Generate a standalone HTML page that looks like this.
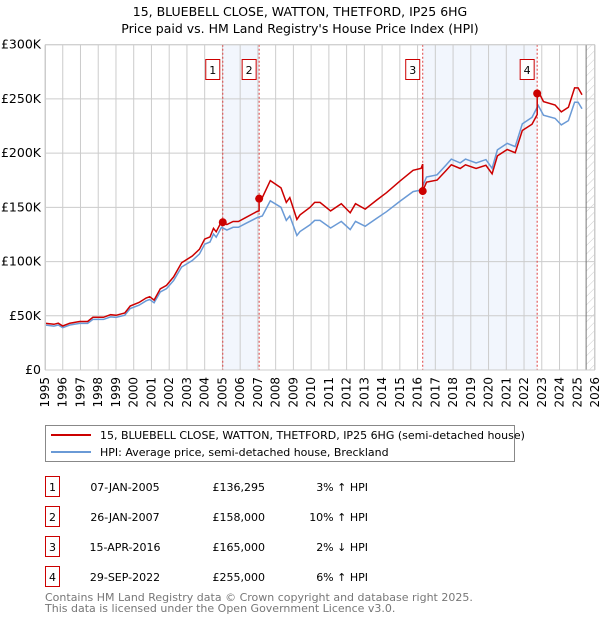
<!DOCTYPE html>
<html><head><meta charset="utf-8">
<style>
body{margin:0;background:#fff;font-family:"DejaVu Sans","Liberation Sans",sans-serif;}
svg text{font-family:"DejaVu Sans","Liberation Sans",sans-serif;}
</style></head>
<body>
<svg id="chart" width="600" height="620" viewBox="0 0 600 620" xmlns="http://www.w3.org/2000/svg">
<text x="300" y="16" text-anchor="middle" font-size="12.5">15, BLUEBELL CLOSE, WATTON, THETFORD, IP25 6HG</text>
<text x="300" y="33" text-anchor="middle" font-size="12.5">Price paid vs. HM Land Registry's House Price Index (HPI)</text>
<g id="plot"></g>
<g id="legend">
<rect x="45.5" y="425.5" width="469" height="36" fill="#fff" stroke="#888"/>
<line x1="51" y1="435" x2="91" y2="435" stroke="#cc0000" stroke-width="2"/>
<text x="100" y="439" font-size="11">15, BLUEBELL CLOSE, WATTON, THETFORD, IP25 6HG (semi-detached house)</text>
<line x1="51" y1="452" x2="91" y2="452" stroke="#6a9ad6" stroke-width="2"/>
<text x="100" y="456" font-size="11">HPI: Average price, semi-detached house, Breckland</text>
</g>
<g id="table"></g>
<text x="45" y="601" font-size="11" fill="#777">Contains HM Land Registry data © Crown copyright and database right 2025.</text>
<text x="45" y="612" font-size="11" fill="#777">This data is licensed under the Open Government Licence v3.0.</text>
</svg>
<script>
const hpiYears=[1995.0,1995.5,1995.75,1996.0,1996.4,1996.95,1997.4,1997.7,1998.3,1998.7,1999.0,1999.5,1999.8,2000.3,2000.7,2000.9,2001.15,2001.5,2001.85,2002.25,2002.7,2003.3,2003.7,2004.0,2004.3,2004.5,2004.65,2004.95,2005.25,2005.6,2005.9,2006.3,2006.95,2007.25,2007.7,2008.3,2008.6,2008.8,2009.2,2009.37,2009.93,2010.2,2010.5,2011.1,2011.7,2012.2,2012.5,2013.05,2013.7,2014.25,2015.0,2015.75,2016.2,2016.5,2017.1,2017.6,2017.9,2018.4,2018.7,2019.3,2019.85,2020.2,2020.5,2021.05,2021.5,2021.9,2022.45,2022.8,2023.1,2023.75,2024.1,2024.5,2024.85,2025.05,2025.27];
const hpiValues=[41.5,40.5,41.5,39,41.5,43,43,46.7,46.7,49,48.5,50.5,56.7,59.8,63.8,65,62,72,75,82.5,95,101,107,116,118,125.5,122.5,131.6,129,131.6,131.6,135,140.5,142,156,150,138,142,124,127.7,133.8,138,138,131,137,129.5,137,132.5,140,146,155.5,164.5,166,178,180,189,194.5,191,194.5,191,194,186,203,209,206,227,233,244,235,232,226,230,247,247,241];
const saleLabels=["1","2","3","4"];
const saleYears=[2005.02,2007.07,2016.29,2022.74];
const salePrices=[136.295,158,165,255];
const saleDates=["07-JAN-2005","26-JAN-2007","15-APR-2016","29-SEP-2022"];
const salePriceText=["£136,295","£158,000","£165,000","£255,000"];
const saleHpiText=["3% ↑ HPI","10% ↑ HPI","2% ↓ HPI","6% ↑ HPI"];
const yTicks=[0,50,100,150,200,250,300];
const yTickLabels=["£0","£50K","£100K","£150K","£200K","£250K","£300K"];
const xTicks=[1995,1996,1997,1998,1999,2000,2001,2002,2003,2004,2005,2006,2007,2008,2009,2010,2011,2012,2013,2014,2015,2016,2017,2018,2019,2020,2021,2022,2023,2024,2025,2026];

const NS="http://www.w3.org/2000/svg";
const L=45,R=595,T=44.7,B=370;
const X=y=>L+(y-1995)*(R-L)/31;
const Y=v=>B-v*(B-T)/300;
function mk(tag,attrs,parent){const e=document.createElementNS(NS,tag);for(const k in attrs)e.setAttribute(k,attrs[k]);parent.appendChild(e);return e;}
function hpiAt(t){for(let i=0;i<hpiYears.length-1;i++){if(t<=hpiYears[i+1]){const f=(t-hpiYears[i])/(hpiYears[i+1]-hpiYears[i]);return hpiValues[i]+f*(hpiValues[i+1]-hpiValues[i]);}}return hpiValues[hpiValues.length-1];}
const plot=document.getElementById('plot');
[[0,1],[2,3]].forEach(p=>{const r=mk('rect',{x:X(saleYears[p[0]]),y:T,width:X(saleYears[p[1]])-X(saleYears[p[0]]),height:B-T,fill:'#f2f6fd'},plot);

});
const defs=mk('defs',{},plot);
const pat=mk('pattern',{id:'hatch',width:6,height:6,patternUnits:'userSpaceOnUse',patternTransform:'rotate(45)'},defs);
mk('line',{x1:0,y1:0,x2:0,y2:6,stroke:'#ccc','stroke-width':1},pat);
const hx=X(2025.5);
const hr=mk('rect',{x:hx,y:T,width:R-hx,height:B-T,fill:'url(#hatch)'},plot);


xTicks.forEach((t,i)=>{const g=mk('line',{x1:X(t),y1:T,x2:X(t),y2:B,stroke:'#ccc','stroke-width':1},plot);


const tx=mk('text',{x:X(t)+4,y:377,'font-size':12,'text-anchor':'end',transform:`rotate(-90 ${X(t)+4} 377)`},plot);


tx.textContent=t;});
yTicks.forEach((v,i)=>{const g=mk('line',{x1:L,y1:Y(v),x2:R,y2:Y(v),stroke:'#ccc','stroke-width':1},plot);


const tx=mk('text',{x:41,y:Y(v)+4,'font-size':12.5,'text-anchor':'end'},plot);


tx.textContent=yTickLabels[i];});
const vl=mk('line',{x1:hx,y1:T,x2:hx,y2:B,stroke:'#777','stroke-width':1},plot);


saleYears.forEach((s,i)=>{const l=mk('line',{x1:X(s),y1:T,x2:X(s),y2:B,stroke:'#e04040','stroke-width':1,'stroke-dasharray':'2,2'},plot);


const bx=mk('rect',{x:X(s)-17,y:59.5,width:14,height:20,fill:'#fff',stroke:'#cc0000'},plot);


const t=mk('text',{x:X(s)-10,y:74,'font-size':11,'text-anchor':'middle'},plot);


t.textContent=saleLabels[i];});
let d='';hpiYears.forEach((t,i)=>{d+=(i?'L':'M')+X(t).toFixed(1)+','+Y(hpiValues[i]).toFixed(1);});
const hp=mk('path',{d:d,fill:'none',stroke:'#6a9ad6','stroke-width':1.5},plot);


function segIdx(t){let k=0;for(let i=0;i<saleYears.length;i++)if(t>=saleYears[i])k=i;return k;}
let pts=[];
hpiYears.forEach((t,i)=>{
  saleYears.forEach((s,j)=>{const prev=pts.length?pts[pts.length-1][0]:-1;if(s>prev&&s<=t&&j>0){pts.push([s,hpiAt(s)*salePrices[j-1]/hpiAt(saleYears[j-1])]);pts.push([s,salePrices[j]]);}});
  const k=segIdx(t);pts.push([t,hpiValues[i]*salePrices[k]/hpiAt(saleYears[k])]);});
pts.sort((a,b)=>a[0]-b[0]);
let d2='';pts.forEach((p,i)=>{d2+=(i?'L':'M')+X(p[0]).toFixed(1)+','+Y(p[1]).toFixed(1);});
const pp=mk('path',{d:d2,fill:'none',stroke:'#cc0000','stroke-width':1.5},plot);


saleYears.forEach((s,i)=>{const c=mk('circle',{cx:X(s),cy:Y(salePrices[i]),r:4,fill:'#cc0000'},plot);

});
mk('rect',{x:L+0.5,y:T,width:R-L-1,height:B-T,fill:'none',stroke:'#ccc'},plot);
const tb=document.getElementById('table');
saleLabels.forEach((lab,i)=>{const cy=487+30*i;
const b=mk('rect',{x:45.5,y:cy-10.5,width:14,height:20,fill:'#fff',stroke:'#cc0000'},tb);


const t1=mk('text',{x:52.5,y:cy+4,'font-size':11,'text-anchor':'middle'},tb);

t1.textContent=lab;
const t2=mk('text',{x:125,y:cy+4,'font-size':11,'text-anchor':'middle'},tb);

t2.textContent=saleDates[i];
const t3=mk('text',{x:265,y:cy+4,'font-size':11,'text-anchor':'end'},tb);

t3.textContent=salePriceText[i];
const t4=mk('text',{x:368,y:cy+4,'font-size':11,'text-anchor':'end'},tb);

t4.textContent=saleHpiText[i];});
</script>
</body></html>
